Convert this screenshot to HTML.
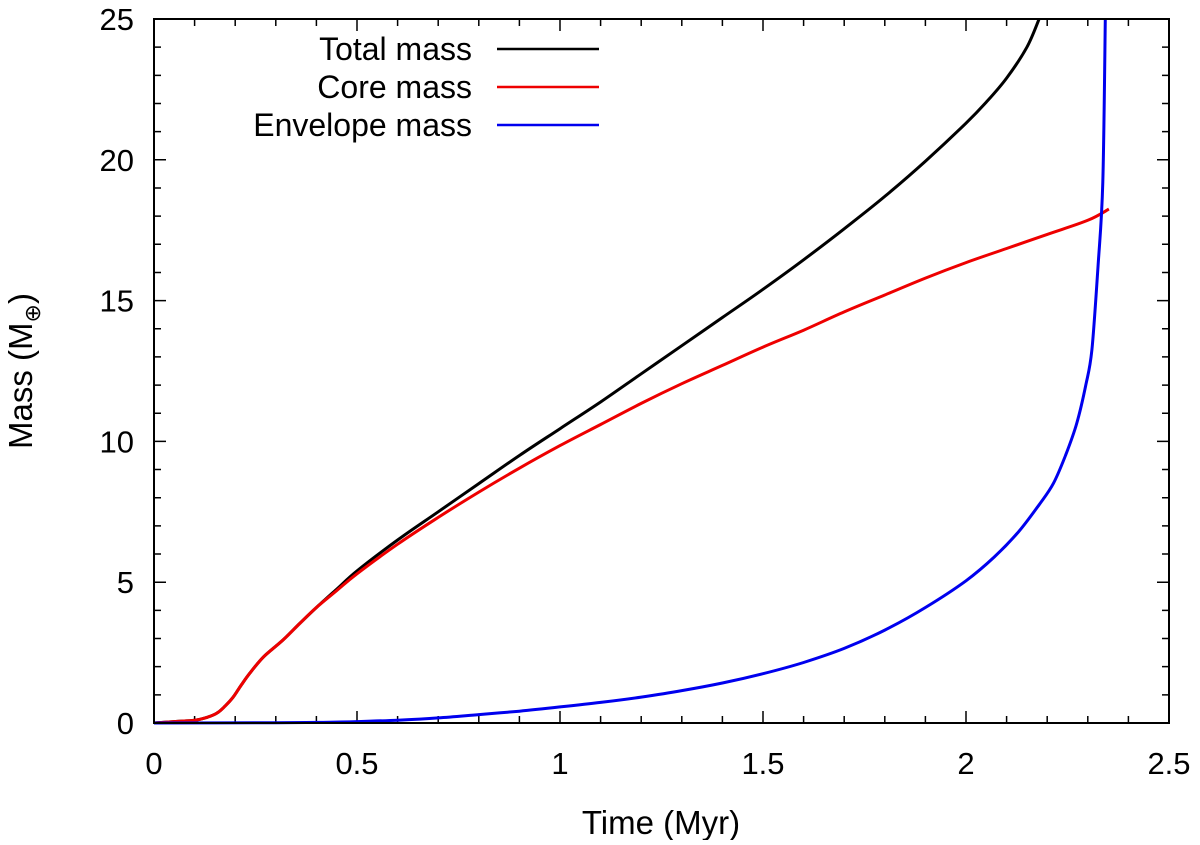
<!DOCTYPE html>
<html><head><meta charset="utf-8"><style>
body{margin:0;background:#fff}
svg text{font-family:"Liberation Sans",sans-serif;fill:#000}
</style></head><body>
<svg id="chart" width="1200" height="840" xmlns="http://www.w3.org/2000/svg">
<g id="grid"></g>
<g id="series"></g>
<rect x="154" y="19" width="1015" height="704" fill="none" stroke="#000" stroke-width="2"/>
<text x="661" y="834" font-size="33" text-anchor="middle">Time (Myr)</text>
<text transform="translate(32,371) rotate(-90)" font-size="33" text-anchor="middle">Mass (M<tspan font-size="22" dy="8">⊕</tspan><tspan dy="-8">)</tspan></text>
<g id="legend"></g>
</svg>
<script>
const xTicks=[0,0.5,1,1.5,2,2.5];
const xTickLabels=["0","0.5","1","1.5","2","2.5"];
const yTicks=[0,5,10,15,20,25];
const yTickLabels=["0","5","10","15","20","25"];
const seriesNames=["Total mass","Core mass","Envelope mass"];
const seriesColors=["#000","#e00","#00e"];
const totalT=[0,0.05,0.1,0.13,0.155,0.175,0.195,0.215,0.236,0.27,0.318,0.36,0.4,0.45,0.5,0.6,0.7,0.8,0.9,1.0,1.1,1.2,1.3,1.4,1.5,1.6,1.7,1.8,1.9,2.0,2.05,2.1,2.15,2.18];
const totalM=[0,0.05,0.1,0.2,0.35,0.6,0.92,1.35,1.77,2.35,2.95,3.55,4.1,4.75,5.4,6.5,7.5,8.5,9.5,10.45,11.4,12.4,13.4,14.4,15.4,16.45,17.55,18.7,19.95,21.3,22.05,22.9,24.0,25];
const coreT=[0,0.05,0.1,0.13,0.155,0.175,0.195,0.215,0.236,0.27,0.318,0.36,0.4,0.45,0.5,0.6,0.7,0.8,0.9,1.0,1.1,1.2,1.3,1.4,1.5,1.6,1.7,1.8,1.9,2.0,2.1,2.2,2.3,2.352];
const coreM=[0,0.05,0.1,0.2,0.35,0.6,0.92,1.35,1.77,2.35,2.95,3.55,4.1,4.7,5.3,6.35,7.3,8.2,9.05,9.85,10.6,11.35,12.05,12.7,13.35,13.95,14.6,15.2,15.8,16.35,16.85,17.35,17.85,18.25];
const envT=[0,0.3,0.4,0.5,0.6,0.7,0.8,0.9,1.0,1.1,1.2,1.3,1.4,1.5,1.6,1.7,1.8,1.9,2.0,2.07,2.13,2.18,2.215,2.245,2.273,2.295,2.31,2.325,2.337,2.343];
const envM=[0,0.01,0.02,0.05,0.1,0.18,0.3,0.42,0.57,0.73,0.92,1.15,1.42,1.75,2.15,2.65,3.3,4.1,5.05,5.9,6.8,7.75,8.5,9.5,10.65,12.0,13.25,16.2,19.2,25];
const seriesT=[totalT,coreT,envT], seriesM=[totalM,coreM,envM];
const X0=154,X1=1169,Y0=723,Y1=19;
const sx=v=>X0+(X1-X0)*v/2.5, sy=v=>Y0-(Y0-Y1)*v/25;
const NS="http://www.w3.org/2000/svg";
const grid=document.getElementById('grid'), ser=document.getElementById('series'), leg=document.getElementById('legend');
function mk(tag,attrs,parent){const e=document.createElementNS(NS,tag);for(const k in attrs)e.setAttribute(k,attrs[k]);parent.appendChild(e);return e;}
let d="";
for(let i=0;i<=25;i++){const v=i/10,x=sx(v),L=(i%5==0)?12:7;d+=`M${x} ${Y0}v${-L}M${x} ${Y1}v${L}`;}
for(let i=0;i<=25;i++){const y=sy(i),L=(i%5==0)?12:7;d+=`M${X0} ${y}h${L}M${X1} ${y}h${-L}`;}
const tk=mk('path',{d:d,stroke:'#000','stroke-width':1.5,fill:'none'},grid);


xTicks.forEach((v,i)=>{const t=mk('text',{x:sx(v),y:774,'font-size':31,'text-anchor':'middle'},grid);t.textContent=xTickLabels[i];

});
yTicks.forEach((v,i)=>{const t=mk('text',{x:134,y:sy(v)+11,'font-size':31,'text-anchor':'end'},grid);t.textContent=yTickLabels[i];

});
function smooth(P){let p=`M${P[0][0].toFixed(1)} ${P[0][1].toFixed(1)}`;
for(let i=0;i<P.length-1;i++){const a=P[Math.max(i-1,0)],b=P[i],c=P[i+1],e=P[Math.min(i+2,P.length-1)];
const c1=[b[0]+(c[0]-a[0])/6,b[1]+(c[1]-a[1])/6],c2=[c[0]-(e[0]-b[0])/6,c[1]-(e[1]-b[1])/6];
p+=`C${c1[0].toFixed(1)} ${c1[1].toFixed(1)} ${c2[0].toFixed(1)} ${c2[1].toFixed(1)} ${c[0].toFixed(1)} ${c[1].toFixed(1)}`;}
return p;}
[0,1,2].forEach(s=>{const T=seriesT[s],M=seriesM[s];const P=T.map((t,i)=>[sx(t),sy(M[i])]);
const pl=mk('path',{d:smooth(P),stroke:seriesColors[s],'stroke-width':3,fill:'none','stroke-linejoin':'round'},ser);

});
const legY=[49,87,125];
seriesNames.forEach((n,i)=>{const t=mk('text',{x:472,y:legY[i]+11,'font-size':32,'text-anchor':'end'},leg);t.textContent=n;


const l=mk('line',{x1:497,x2:599,y1:legY[i],y2:legY[i],stroke:seriesColors[i],'stroke-width':2.5},leg);

});
</script>
</body></html>
